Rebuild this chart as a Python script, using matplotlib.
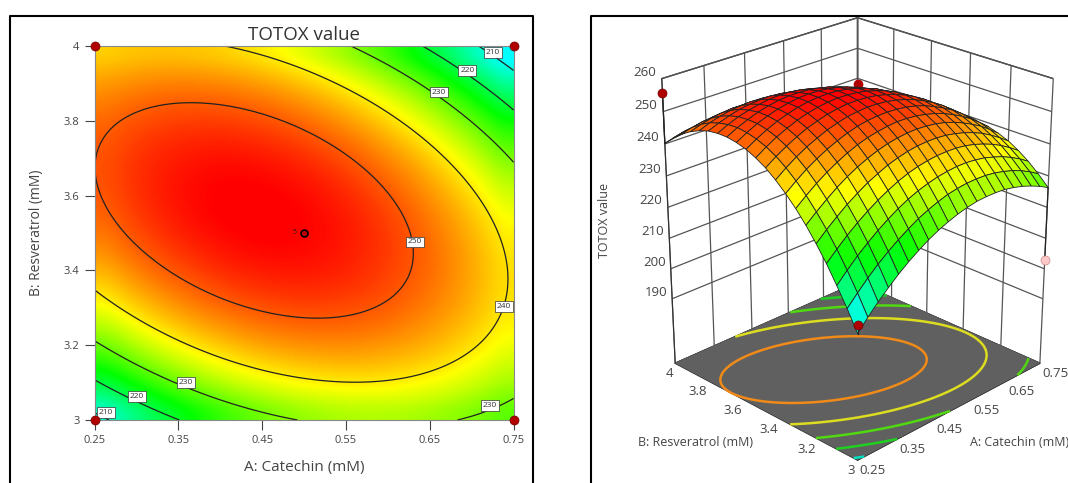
import numpy as np
import matplotlib
matplotlib.use('Agg')
import matplotlib.pyplot as plt
from matplotlib.colors import LinearSegmentedColormap
from matplotlib.lines import Line2D

plt.rcParams['font.family'] = ['Open Sans', 'DejaVu Sans']

catechin = [.25,.275,.3,.325,.35,.375,.4,.425,.45,.475,.5,.525,.55,.575,.6,.625,.65,.675,.7,.725,.75]
resveratrol = [3,3.05,3.1,3.15,3.2,3.25,3.3,3.35,3.4,3.45,3.5,3.55,3.6,3.65,3.7,3.75,3.8,3.85,3.9,3.95,4]
# TOTOX, one row per resveratrol value
totox = [
[207.6,211.1,214.3,217.2,219.9,222.3,224.4,226.3,227.9,229.2,230.3,231.1,231.7,231.9,231.9,231.7,231.1,230.3,229.2,227.9,226.3],
[213.7,217.0,220.1,222.9,225.4,227.6,229.6,231.4,232.8,234.0,235.0,235.6,236.0,236.1,236.0,235.6,234.9,234.0,232.8,231.3,229.5],
[219.2,222.4,225.4,228.0,230.4,232.5,234.4,236.0,237.3,238.3,239.1,239.6,239.9,239.9,239.6,239.1,238.2,237.2,235.8,234.2,232.3],
[224.4,227.4,230.2,232.7,234.9,236.9,238.6,240.1,241.3,242.2,242.8,243.2,243.3,243.2,242.8,242.1,241.1,239.9,238.4,236.6,234.6],
[229.0,231.9,234.5,236.9,239.0,240.9,242.4,243.8,244.8,245.6,246.1,246.3,246.3,246.0,245.4,244.6,243.5,242.2,240.5,238.6,236.5],
[233.2,235.9,238.4,240.7,242.7,244.4,245.8,247.0,247.9,248.5,248.9,249.0,248.8,248.4,247.7,246.7,245.4,243.9,242.2,240.1,237.8],
[236.9,239.5,241.9,244.0,245.8,247.4,248.7,249.7,250.4,250.9,251.2,251.1,250.8,250.2,249.4,248.3,246.9,245.3,243.4,241.2,238.8],
[240.1,242.6,244.9,246.8,248.5,249.9,251.1,252.0,252.6,252.9,253.0,252.8,252.4,251.7,250.7,249.4,247.9,246.2,244.1,241.8,239.2],
[242.9,245.3,247.4,249.2,250.7,252.0,253.0,253.8,254.2,254.5,254.4,254.1,253.5,252.6,251.5,250.1,248.5,246.6,244.4,241.9,239.2],
[245.3,247.5,249.4,251.1,252.5,253.6,254.5,255.1,255.5,255.5,255.3,254.9,254.1,253.1,251.9,250.4,248.6,246.5,244.2,241.6,238.7],
[247.1,249.2,251.0,252.5,253.8,254.8,255.5,256.0,256.2,256.1,255.8,255.2,254.3,253.2,251.8,250.1,248.2,246.0,243.5,240.8,237.8],
[248.5,250.4,252.1,253.5,254.6,255.5,256.1,256.4,256.5,256.3,255.8,255.0,254.0,252.8,251.2,249.4,247.3,245.0,242.4,239.5,236.4],
[249.4,251.2,252.8,254.0,255.0,255.7,256.2,256.4,256.3,255.9,255.3,254.4,253.3,251.9,250.2,248.2,246.0,243.5,240.8,237.8,234.5],
[249.9,251.6,252.9,254.1,254.9,255.5,255.8,255.8,255.6,255.1,254.4,253.4,252.1,250.5,248.7,246.6,244.2,241.6,238.7,235.6,232.1],
[249.9,251.4,252.7,253.6,254.3,254.8,255.0,254.9,254.5,253.9,253.0,251.8,250.4,248.7,246.7,244.5,242.0,239.2,236.2,232.9,229.3],
[249.5,250.8,251.9,252.8,253.3,253.6,253.7,253.4,252.9,252.1,251.1,249.8,248.2,246.4,244.3,241.9,239.3,236.4,233.2,229.8,226.1],
[248.5,249.8,250.7,251.4,251.8,252.0,251.9,251.5,250.9,250.0,248.8,247.3,245.6,243.7,241.4,238.9,236.1,233.1,229.8,226.2,222.4],
[247.1,248.2,249.0,249.6,249.9,249.9,249.7,249.1,248.4,247.3,246.0,244.4,242.6,240.4,238.1,235.4,232.5,229.3,225.9,222.1,218.2],
[245.3,246.2,246.9,247.3,247.5,247.3,247.0,246.3,245.4,244.2,242.7,241.0,239.0,236.8,234.2,231.5,228.4,225.1,221.5,217.6,213.5],
[243.0,243.8,244.3,244.6,244.6,244.3,243.8,243.0,241.9,240.6,239.0,237.2,235.0,232.6,230.0,227.0,223.8,220.4,216.6,212.6,208.4],
[240.2,240.9,241.3,241.4,241.2,240.8,240.2,239.2,238.0,236.6,234.8,232.8,230.6,228.0,225.2,222.1,218.8,215.2,211.3,207.2,202.8],
]
levels = [210,220,230,240,250]
floor_colors = ['#00e0c0','#20d020','#50d810','#dcdc20','#f08a18']
x_ticks = [.25,.35,.45,.55,.65,.75]
x_labels = ['0.25','0.35','0.45','0.55','0.65','0.75']
y_ticks = [3,3.2,3.4,3.6,3.8,4]
y_labels = ['3','3.2','3.4','3.6','3.8','4']
z_ticks = [190,200,210,220,230,240,250,260]
# labels on the contour lines
label_vals = [210,220,230,250,240,230,230,220,210]
label_a = [.7256,.6947,.6606,.632,.738,.7215,.359,.30,.263]
label_b = [3.983,3.934,3.877,3.476,3.303,3.039,3.10,3.062,3.02]
# design points
pt_a = [.25,.25,.75,.75]
pt_b = [3,4,3,4]
pt_z = [210.3,255.6,203,238]
pt_col = ['#b00000','#b00000','#ffc8c8','#b00000']

A,B = np.meshgrid(catechin,resveratrol)
Z = np.array(totox)

cmap = LinearSegmentedColormap.from_list('de',[(0,'#00ffff'),(.314,'#00ff00'),(.627,'#ffff00'),(1,'#ff0000')])
zmin,zmax = 205,256
txt = '#444444'

fig = plt.figure(figsize=(10.68,4.83),dpi=100)
W,H = 1068.,483.

def frame(x0,x1,y0=16):
    xs = [x0,x0,x1,x1]
    ys = [H,y0,y0,H]
    fig.add_artist(Line2D([v/W for v in xs],[1-v/H for v in ys],color='black',lw=1.5))

frame(9.5,533)
frame(590.5,1075)

# the table is rounded, so smooth it with a quadratic for the contour lines only
def terms(a,b):
    return np.c_[np.ones(a.size),a.ravel(),b.ravel(),a.ravel()**2,b.ravel()**2,a.ravel()*b.ravel()]
coef = np.linalg.lstsq(terms(A,B),Z.ravel(),rcond=None)[0]
Af,Bf = np.meshgrid(np.linspace(.25,.75,201),np.linspace(3,4,201))
Zf = (terms(Af,Bf)@coef).reshape(Af.shape)

ax = fig.add_axes([94.7/W,1-420/H,(513.6-94.7)/W,374/H])
ax.imshow(Z,origin='lower',extent=[.25,.75,3,4],aspect='auto',cmap=cmap,vmin=zmin,vmax=zmax,interpolation='bicubic')
ax.contour(Af,Bf,Zf,levels=levels,colors='#222222',linewidths=.9)
ax.set_xticks(x_ticks,x_labels)
ax.set_yticks(y_ticks,y_labels)
ax.tick_params(labelsize=8,colors=txt,length=7.5,width=.8)
for s in ax.spines.values():
    s.set_color('#888888')
ax.set_xlabel('A: Catechin (mM)',fontsize=11,color=txt,labelpad=10)
ax.set_ylabel('B: Resveratrol (mM)',fontsize=10,color=txt,labelpad=14)
ax.set_title('TOTOX value',fontsize=13.5,color='#333333',pad=4)
for v,a,b in zip(label_vals,label_a,label_b):
    ax.text(a,b,str(v),fontsize=6,ha='center',va='center',color='#333333',
            bbox=dict(fc='white',ec='#333333',lw=.5,pad=1.3))
ax.plot(pt_a,pt_b,'o',color='#b00000',ms=6.5,mec='#700000',mew=.5,clip_on=False,zorder=5)
ax.plot([.5],[3.5],'o',color='#c00000',ms=5,mec='black',mew=1.2,zorder=5)
ax.text(.4915,3.5,'5',fontsize=5,ha='right',va='center',color='#222222')

ax3 = fig.add_axes([551/W,9/H,600/W,1],projection='3d',computed_zorder=False)
ax3.view_init(elev=24.5,azim=-135)
ax3.set_proj_type('persp',focal_length=.7)
ax3.set_box_aspect((1,1,1.17),zoom=.985)
floor = 168
ax3.set_xlim(.25,.75);ax3.set_ylim(3,4);ax3.set_zlim(floor,260)
for axis in (ax3.xaxis,ax3.yaxis,ax3.zaxis):
    axis.set_pane_color((1,1,1,1))
    axis.pane.set_edgecolor('#333333')
    axis._axinfo['grid']['color'] = '#555555'
    axis._axinfo['grid']['linewidth'] = .9
    axis._axinfo['tick']['inward_factor'] = 0
    axis._axinfo['tick']['outward_factor'] = 0
    axis.line.set_color('#333333')
ax3.set_xticks(x_ticks,x_labels,ha='left')
ax3.set_yticks(y_ticks,y_labels,ha='right')
ax3.set_zticks(z_ticks,[str(v) for v in z_ticks],va='bottom')
ax3.tick_params(axis='x',labelsize=9.5,colors=txt,pad=-6)
ax3.tick_params(axis='y',labelsize=9.5,colors=txt,pad=-6)
ax3.tick_params(axis='z',labelsize=9.5,colors=txt,pad=0)
fx,fy = np.meshgrid([.25,.75],[3,4])
ax3.plot_surface(fx,fy,np.full_like(fx,floor),color='#606060',shade=False,zorder=1,linewidth=0)
ax3.contour(Af,Bf,Zf,levels=levels,zdir='z',offset=floor,colors=floor_colors,linewidths=1.8,zorder=2)
ax3.plot([.75],[4],[238],'o',color='#b00000',ms=6,zorder=2.5)
ax3.plot_surface(A,B,Z,facecolors=cmap((Z-zmin)/(zmax-zmin)),edgecolor='#222222',linewidth=.6,rstride=1,cstride=1,shade=False,zorder=3)
corner = [Z[0,0],Z[-1,0],Z[0,-1]]
for a,b,z,zc,col in zip(pt_a[:3],pt_b[:3],pt_z[:3],corner,pt_col[:3]):
    ax3.plot([a,a],[b,b],[zc,z],color='#222222',lw=.9,zorder=4)
    ax3.plot([a],[b],[z],'o',color=col,mec='#700000' if col=='#b00000' else '#cc8888',mew=.5,ms=6.5,zorder=5)
fig.text(605/W,1-220/H,'TOTOX value',rotation=90,fontsize=9,color=txt,ha='center',va='center')
fig.text(696/W,1-443/H,'B: Resveratrol (mM)',fontsize=9,color=txt,ha='center',va='center')
fig.text(1020/W,1-443/H,'A: Catechin (mM)',fontsize=9,color=txt,ha='center',va='center')
fig.savefig('out.png',dpi=100)
